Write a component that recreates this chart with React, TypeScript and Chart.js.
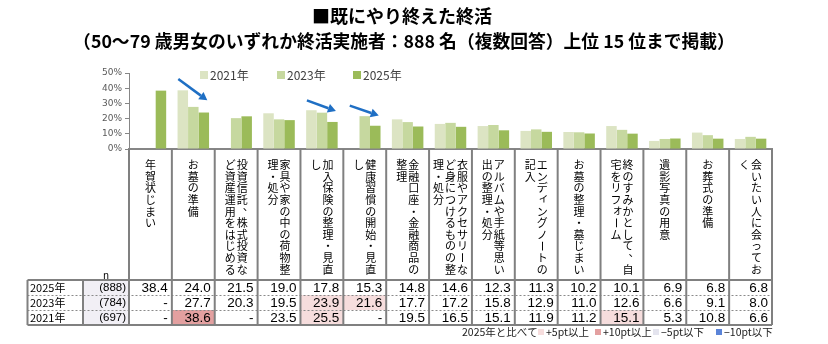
import React, { useEffect, useRef } from 'react';
import { Chart, registerables } from 'chart.js';

Chart.register(...registerables);

const titleLine1 = '■既にやり終えた終活';
const titleLine2 = '（50～79 歳男女のいずれか終活実施者：888 名（複数回答）上位 15 位まで掲載）';

const categories = [
  '年賀状じまい',
  'お墓の準備',
  '投資信託、株式投資など資産運用をはじめる',
  '家具や家の中の荷物整理・処分',
  '加入保険の整理・見直し',
  '健康習慣の開始・見直し',
  '金融口座・金融商品の整理',
  '衣服やアクセサリーなど身につけるものの整理・処分',
  'アルバムや手紙等思い出の整理・処分',
  'エンディングノートの記入',
  'お墓の整理・墓じまい',
  '終のすみかとして、自宅をリフォーム',
  '遺影写真の用意',
  'お葬式の準備',
  '会いたい人に会っておく',
];

// vertical label columns (right to left)
const labelColumns: string[][] = [
  ['年賀状じまい'],
  ['お墓の準備'],
  ['投資信託、株式投資な', 'ど資産運用をはじめる'],
  ['家具や家の中の荷物整', '理・処分'],
  ['加入保険の整理・見直', 'し'],
  ['健康習慣の開始・見直', 'し'],
  ['金融口座・金融商品の', '整理'],
  ['衣服やアクセサリーな', 'ど身につけるものの整', '理・処分'],
  ['アルバムや手紙等思い', '出の整理・処分'],
  ['エンディングノートの', '記入'],
  ['お墓の整理・墓じまい'],
  ['終のすみかとして、自', '宅をリフォーム'],
  ['遺影写真の用意'],
  ['お葬式の準備'],
  ['会いたい人に会ってお', 'く'],
];

const seriesLabels = ['2021年', '2023年', '2025年'];
const values2021: (number | null)[] = [null, 38.6, null, 23.5, 25.5, null, 19.5, 16.5, 15.1, 11.9, 11.2, 15.1, 5.3, 10.8, 6.6];
const values2023: (number | null)[] = [null, 27.7, 20.3, 19.5, 23.9, 21.6, 17.7, 17.2, 15.8, 12.9, 11.0, 12.6, 6.6, 9.1, 8.0];
const values2025: (number | null)[] = [38.4, 24.0, 21.5, 19.0, 17.8, 15.3, 14.8, 14.6, 12.3, 11.3, 10.2, 10.1, 6.9, 6.8, 6.8];

const tableRowLabels = ['2025年', '2023年', '2021年'];
const sampleSizes = ['(888)', '(784)', '(697)'];
const yTicks = [0, 10, 20, 30, 40, 50];

const compareLegendTitle = '2025年と比べて';
const compareLegendLabels = ['+5pt以上', '+10pt以上', '−5pt以下', '−10pt以下'];

// arrows: category index, start % and end %
const arrowNotes = [
  { category: 1, fromPct: 46, toPct: 32 },
  { category: 4, fromPct: 32, toPct: 25 },
  { category: 5, fromPct: 28.5, toPct: 22 },
];

const COLORS = ['#dce4c3', '#c6d89f', '#9bbb59'];
const CMP_COLORS = ['#f6dddd', '#e3a0a0', '#e4e4ee', '#5b84d8'];
const JP = '"Noto Sans CJK JP", "Noto Sans", sans-serif';

function drawVertical(ctx: CanvasRenderingContext2D, text: string, x: number, y0: number, step: number, fs: number) {
  let y = y0;
  for (const ch of Array.from(text)) {
    if (ch === 'ー' || ch === '～') {
      ctx.save();
      ctx.translate(x, y);
      ctx.rotate(Math.PI / 2);
      ctx.fillText(ch, 0, 0);
      ctx.restore();
    } else if (ch === '、' || ch === '。') {
      ctx.fillText(ch, x + fs * 0.55, y - fs * 0.55);
    } else if ('ィァゥェォッャュョ'.includes(ch)) {
      ctx.fillText(ch, x + 1.5, y - 1.5);
    } else {
      ctx.fillText(ch, x, y);
    }
    y += step;
  }
}

const decorPlugin = {
  id: 'decor',
  afterDraw(chart: any) {
    const ctx: CanvasRenderingContext2D = chart.ctx;
    const xs = chart.scales.x;
    const ys = chart.scales.y;
    const area = chart.chartArea;
    const n = categories.length;
    const cw = (area.right - area.left) / n;
    const colL = (i: number) => xs.getPixelForValue(i) - cw / 2;
    const colR = (i: number) => xs.getPixelForValue(i) + cw / 2;

    ctx.save();
    // Title
    ctx.fillStyle = '#000';
    ctx.textAlign = 'center';
    ctx.textBaseline = 'middle';
    ctx.font = `bold 18px ${JP}`;
    ctx.fillText(titleLine1, 402, 16);
    ctx.font = `bold 17.8px ${JP}`;
    ctx.fillText(titleLine2, 404, 41);

    // Top legend
    const legendX = [200, 277, 353];
    ctx.font = `12px ${JP}`;
    ctx.textAlign = 'left';
    chart.data.datasets.forEach((ds: any, i: number) => {
      ctx.fillStyle = ds.backgroundColor;
      ctx.fillRect(legendX[i], 71, 8, 8);
      ctx.fillStyle = '#404040';
      ctx.fillText(ds.label, legendX[i] + 10, 75.5);
    });

    // Arrows
    ctx.strokeStyle = '#1f6fc4';
    ctx.fillStyle = '#1f6fc4';
    ctx.lineWidth = 2.5;
    arrowNotes.forEach((a) => {
      const cx = xs.getPixelForValue(a.category);
      const x0 = cx - 15, y0 = ys.getPixelForValue(a.fromPct);
      const x1 = cx + 14, y1 = ys.getPixelForValue(a.toPct);
      const ang = Math.atan2(y1 - y0, x1 - x0);
      const hl = 8, hw = 4.5;
      const bx = x1 - hl * Math.cos(ang), by = y1 - hl * Math.sin(ang);
      ctx.beginPath();
      ctx.moveTo(x0, y0);
      ctx.lineTo(bx, by);
      ctx.stroke();
      ctx.beginPath();
      ctx.moveTo(x1, y1);
      ctx.lineTo(bx + hw * Math.sin(ang), by - hw * Math.cos(ang));
      ctx.lineTo(bx - hw * Math.sin(ang), by + hw * Math.cos(ang));
      ctx.closePath();
      ctx.fill();
    });

    // Category labels (vertical)
    const labelTop = area.bottom;
    const tableTop = 280;
    const rowH = 15;
    const tableBottom = tableTop + rowH * 3;
    const tableLeft = 27.5;
    const rowLabelRight = 83;
    const fs = 11;
    ctx.fillStyle = '#000';
    ctx.font = `${fs}px ${JP}`;
    ctx.textAlign = 'center';
    ctx.textBaseline = 'middle';
    labelColumns.forEach((cols, i) => {
      const cx = xs.getPixelForValue(i);
      const k = cols.length;
      cols.forEach((t, j) => {
        const x = cx + ((k - 1) / 2) * 12 - j * 12;
        drawVertical(ctx, t, x, 165, 11.6, fs);
      });
    });
    ctx.font = `10px ${JP}`;
    ctx.fillText('n', 106, 275);

    // Table backgrounds
    ctx.fillStyle = '#f1eff5';
    ctx.fillRect(rowLabelRight, tableTop, area.left - rowLabelRight, rowH * 3);
    const rowsData = [values2025, values2023, values2021];
    rowsData.forEach((vals, r) => {
      vals.forEach((v, i) => {
        if (r === 0 || v == null || values2025[i] == null) return;
        const d = Math.round((v - (values2025[i] as number)) * 10) / 10;
        let c: string | null = null;
        if (d >= 10) c = CMP_COLORS[1];
        else if (d >= 5) c = CMP_COLORS[0];
        else if (d <= -10) c = CMP_COLORS[3];
        else if (d <= -5) c = CMP_COLORS[2];
        if (c) {
          ctx.fillStyle = c;
          ctx.fillRect(colL(i), tableTop + r * rowH, cw, rowH);
        }
      });
    });

    // Table text
    ctx.fillStyle = '#000';
    ctx.textBaseline = 'middle';
    rowsData.forEach((vals, r) => {
      const cy = tableTop + r * rowH + rowH / 2 + 0.5;
      ctx.textAlign = 'left';
      ctx.font = `11px ${JP}`;
      ctx.fillText(tableRowLabels[r], 30, cy);
      ctx.textAlign = 'right';
      ctx.font = `11.5px "Liberation Sans", sans-serif`;
      ctx.fillText(sampleSizes[r], area.left - 3, cy);
      ctx.font = `13.5px "Liberation Sans", sans-serif`;
      vals.forEach((v, i) => {
        ctx.fillText(v == null ? '-' : v.toFixed(1), colR(i) - 4, cy);
      });
    });

    // Dashed row separators
    ctx.strokeStyle = '#8a8a8a';
    ctx.lineWidth = 1;
    ctx.setLineDash([2, 2]);
    for (let r = 1; r < 3; r++) {
      const y = tableTop + r * rowH + 0.5;
      ctx.beginPath();
      ctx.moveTo(tableLeft, y);
      ctx.lineTo(area.right, y);
      ctx.stroke();
    }
    ctx.setLineDash([]);

    // Solid borders
    ctx.strokeStyle = '#808080';
    ctx.lineWidth = 2;
    ctx.beginPath();
    ctx.moveTo(tableLeft, tableTop);
    ctx.lineTo(area.right, tableTop);
    ctx.moveTo(tableLeft, tableBottom);
    ctx.lineTo(area.right, tableBottom);
    ctx.moveTo(tableLeft, tableTop);
    ctx.lineTo(tableLeft, tableBottom);
    ctx.moveTo(rowLabelRight, tableTop);
    ctx.lineTo(rowLabelRight, tableBottom);
    for (let i = 0; i <= n; i++) {
      const x = i < n ? colL(i) : colR(n - 1);
      ctx.moveTo(x, labelTop);
      ctx.lineTo(x, tableBottom);
    }
    ctx.stroke();

    // Bottom comparison legend
    ctx.font = `10.5px ${JP}`;
    ctx.textAlign = 'left';
    ctx.fillStyle = '#222';
    ctx.fillText(compareLegendTitle, 462, 332);
    const lx = [538, 595, 653, 716];
    compareLegendLabels.forEach((t, i) => {
      ctx.fillStyle = CMP_COLORS[i];
      ctx.fillRect(lx[i], 329, 6, 6);
      ctx.fillStyle = '#222';
      ctx.fillText(t, lx[i] + 8, 332);
    });
    ctx.restore();
  },
};

export default function App() {
  const ref = useRef<HTMLCanvasElement | null>(null);
  useEffect(() => {
    document.body.style.margin = '0';
    const canvas = ref.current!;
    const chart = new Chart(canvas, {
      type: 'bar',
      data: {
        labels: categories,
        datasets: [
          { label: seriesLabels[0], data: values2021, backgroundColor: COLORS[0] },
          { label: seriesLabels[1], data: values2023, backgroundColor: COLORS[1] },
          { label: seriesLabels[2], data: values2025, backgroundColor: COLORS[2] },
        ] as any,
      },
      options: {
        responsive: false,
        animation: false,
        devicePixelRatio: 1,
        layout: { padding: { left: 0, top: 73, right: 56, bottom: 187 } },
        datasets: { bar: { categoryPercentage: 0.735, barPercentage: 1.0 } } as any,
        plugins: { legend: { display: false }, tooltip: { enabled: false }, title: { display: false } },
        scales: {
          x: {
            ticks: { display: false },
            grid: { display: false },
            border: { display: true, color: '#868686', width: 2 },
          },
          y: {
            min: 0,
            max: 50,
            afterBuildTicks: (s: any) => {
              s.ticks = yTicks.map((v) => ({ value: v }));
            },
            afterFit: (s: any) => {
              s.width = 129;
            },
            ticks: {
              callback: (v: any) => v + '%',
              font: { family: 'DejaVu Sans', size: 9 },
              color: '#595959',
              padding: 3,
            },
            grid: { drawOnChartArea: false, drawTicks: true, tickLength: 4, color: '#868686' },
            border: { display: true, color: '#868686', width: 1 },
          },
        },
      },
      plugins: [decorPlugin],
    });
    return () => chart.destroy();
  }, []);
  return <canvas ref={ref} width={828} height={344} style={{ display: 'block' }} />;
}
